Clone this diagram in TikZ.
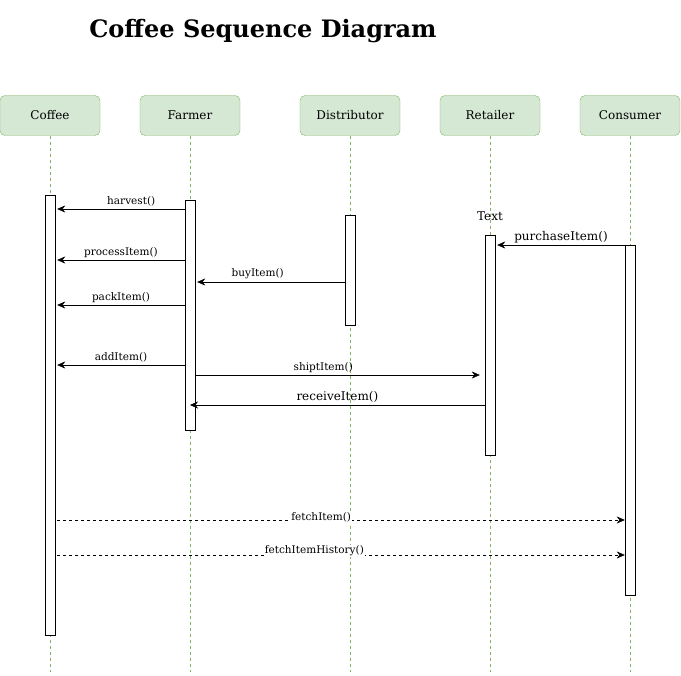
\documentclass[tikz,border=0pt]{standalone}
\usepackage{fontspec}
\setmainfont{DejaVu Serif}
\usetikzlibrary{arrows.meta}
\tikzset{>={Stealth[length=8pt,width=7pt]}}
\definecolor{headfill}{HTML}{D5E8D4}
\definecolor{headline}{HTML}{82B366}

\begin{document}
\begin{tikzpicture}[x=1pt, y=-1pt,
    head/.style={draw=headline, fill=headfill, rounded corners=5pt, minimum width=100pt, minimum height=40pt, font=\fontsize{12}{14}\selectfont},
    life/.style={draw=headline, dash pattern=on 3pt off 3pt},
    bar/.style={draw, fill=white, minimum width=10pt, inner sep=0pt, anchor=north},
    msg/.style={font=\fontsize{10.5}{12}\selectfont, above, inner sep=2.5pt},
    bigmsg/.style={font=\fontsize{12}{14}\selectfont, above, inner sep=2pt},
    ret/.style={->, dashed},
    lbl/.style={fill=white, inner sep=1pt, font=\fontsize{10.5}{12}\selectfont}]
  \useasboundingbox (0,0) rectangle (681,676);
  % title
  \node[font=\bfseries\fontsize{24}{28}\selectfont] (title) at (263,31) {Coffee Sequence Diagram};
  % lifelines
  \foreach \n/\x/\t in {co/50/Coffee, fa/190/Farmer, di/350/Distributor, re/490/Retailer, cs/630/Consumer} {
    \node[head] (\n) at (\x,115.5) {\t};
    \draw[life] (\n.south) -- (\n.south |- 0,672);
  }
  % activations
  \node[bar, minimum height=440pt] (coA) at (50,195) {};
  \node[bar, minimum height=230pt] (faA) at (190,200) {};
  \node[bar, minimum height=110pt] (diA) at (350,215) {};
  \node[bar, minimum height=220pt] (reA) at (490,235) {};
  \node[bar, minimum height=350pt] (csA) at (630,245) {};
  \node[font=\fontsize{12}{14}\selectfont] (note) at (490,216) {Text};
  % messages
  \draw[->] (faA.west |- 0,209) -- node[msg, pos=0.42] {harvest()} ([xshift=2pt]coA.east |- 0,209);
  \draw[->] (faA.west |- 0,260) -- node[msg] {processItem()} ([xshift=2pt]coA.east |- 0,260);
  \draw[->] (diA.west |- 0,282) -- node[msg, pos=0.59] {buyItem()} ([xshift=2pt]faA.east |- 0,282);
  \draw[->] (faA.west |- 0,305) -- node[msg] {packItem()} ([xshift=2pt]coA.east |- 0,305);
  \draw[->] (faA.west |- 0,365) -- node[msg] {addItem()} ([xshift=2pt]coA.east |- 0,365);
  \draw[->] (faA.east |- 0,375) -- node[msg, pos=0.45] {shiptItem()} ([xshift=-5pt]reA.west |- 0,375);
  \draw[->] (reA.west |- 0,405) -- node[bigmsg] {receiveItem()} (faA.center |- 0,405);
  \draw[->] (csA.west |- 0,245) -- node[bigmsg] {purchaseItem()} ([xshift=2pt]reA.east |- 0,245);
  % returns
  \draw[ret] ([xshift=2pt]coA.east |- 0,520) -- node[lbl, pos=0.465, yshift=3pt] {fetchItem()} (csA.west |- 0,520);
  \draw[ret] ([xshift=2pt]coA.east |- 0,555) -- node[lbl, pos=0.453, yshift=4pt] {fetchItemHistory()} (csA.west |- 0,555);
\end{tikzpicture}
\end{document}
